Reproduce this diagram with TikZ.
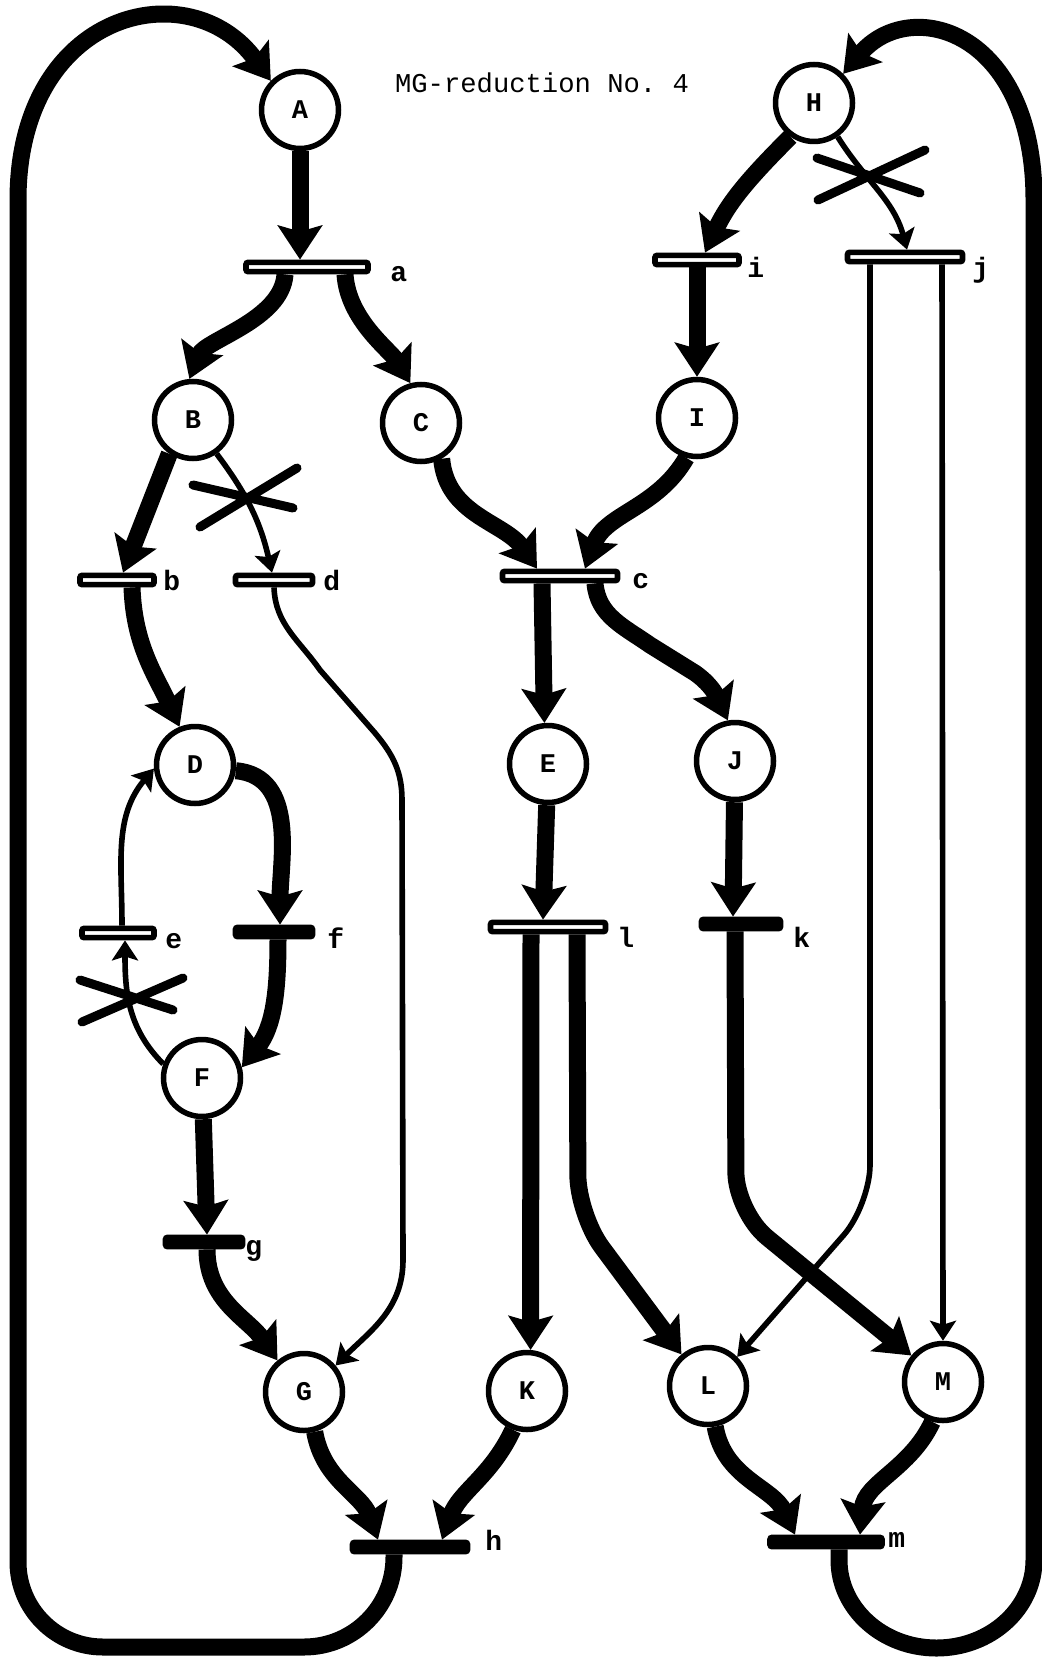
\documentclass[tikz,border=0pt]{standalone}
\usepackage{fontspec}
\setmonofont{Liberation Mono}
\usepackage{tikz}
\usetikzlibrary{positioning, arrows.meta, calc}
\newcommand{\mglet}[1]{\raisebox{-4pt}{#1}}

\begin{document}
\begin{tikzpicture}[
  x=0.5pt, y=0.5pt,
  place/.style={circle, draw, line width=2.75pt, minimum size=38.5pt, inner sep=0pt,
                fill=white, font=\fontsize{13.5}{13.5}\selectfont\ttfamily\bfseries},
  bar/.style={rectangle, rounded corners=1pt, draw, line width=2.8pt,
              minimum height=4.6pt, inner sep=0pt, fill=white},
  fbar/.style={bar, fill=black},
  lbl/.style={font=\fontsize{14}{14}\selectfont\ttfamily\bfseries, inner sep=0pt, anchor=base west},
  ttl/.style={font=\fontsize{13.6}{14}\selectfont\ttfamily, inner sep=0pt},
  heavy/.style={-{Stealth[length=17pt, width=22pt, inset=3pt]}, line width=8.5pt},
  light/.style={-{Stealth[length=10pt, width=13pt, inset=2pt]}, line width=2.8pt},
  xmark/.style={line width=4.5pt, line cap=round},
]
  \useasboundingbox (0,0) rectangle (1042,-1658);

  \node[ttl] (title) at (542,-83) {MG-reduction No. 4};

  % places
  \node[place] (A) at (300,-110)  {\mglet{A}};
  \node[place] (H) at (814,-103)  {\mglet{H}};
  \node[place] (B) at (193,-420)  {\mglet{B}};
  \node[place] (C) at (421,-423)  {\mglet{C}};
  \node[place] (I) at (697,-418)  {\mglet{I}};
  \node[place] (D) at (195,-765)  {\mglet{D}};
  \node[place] (E) at (548,-764)  {\mglet{E}};
  \node[place] (J) at (735,-761)  {\mglet{J}};
  \node[place] (F) at (202,-1078) {\mglet{F}};
  \node[place] (G) at (304,-1392) {\mglet{G}};
  \node[place] (K) at (527,-1391) {\mglet{K}};
  \node[place] (L) at (708,-1386) {\mglet{L}};
  \node[place] (M) at (943,-1382) {\mglet{M}};

  % transitions
  \node[bar, minimum width=61pt]   (a) at (307,-267)  {};
  \node[bar, minimum width=42pt]   (i) at (697,-260)  {};
  \node[bar, minimum width=57.5pt] (j) at (905,-257)  {};
  \node[bar, minimum width=37pt]   (b) at (117,-580)  {};
  \node[bar, minimum width=38.5pt] (d) at (274,-580)  {};
  \node[bar, minimum width=57.5pt] (c) at (560,-576)  {};
  \node[bar, minimum width=36pt]   (e) at (118,-933)  {};
  \node[fbar, minimum width=38.5pt] (f) at (274,-932) {};
  \node[bar, minimum width=57.5pt] (l) at (548,-927)  {};
  \node[fbar, minimum width=39.5pt] (k) at (741,-924) {};
  \node[fbar, minimum width=38.5pt] (g) at (204,-1242) {};
  \node[fbar, minimum width=57.5pt] (h) at (410,-1547) {};
  \node[fbar, minimum width=56pt]   (m) at (826,-1542) {};

  \node[lbl] (la) at (390,-282)  {a};
  \node[lbl] (li) at (747,-278)  {i};
  \node[lbl] (lj) at (972,-278)  {j};
  \node[lbl] (lb) at (163,-590)  {b};
  \node[lbl] (ld) at (323,-590)  {d};
  \node[lbl] (lc) at (632,-588)  {c};
  \node[lbl] (le) at (165,-948)  {e};
  \node[lbl] (lf) at (327,-948)  {f};
  \node[lbl] (ll) at (617,-947)  {l};
  \node[lbl] (lk) at (793,-947)  {k};
  \node[lbl] (lg) at (245,-1255) {g};
  \node[lbl] (lh) at (485,-1550) {h};
  \node[lbl] (lm) at (888,-1547) {m};

  % outer loops
  \draw[heavy] ($(h.south)+(-16,0)$) -- (394,-1557) arc[start angle=0, end angle=-90, radius=90]
    -- (103,-1647) arc[start angle=270, end angle=180, radius=85]
    -- (18,-200) .. controls (18,-10) and (190,30) .. (A.135);
  \draw[heavy] ($(m.south)+(13,0)$) -- (839,-1560)
    arc[start angle=180, end angle=360, x radius=97.5, y radius=88]
    -- (1034,-200) .. controls (1034,-30) and (910,5) .. (H.45);

  % left half
  \draw[heavy] (A) -- (A.south |- a.north);
  \draw[heavy] ($(a.south)+(-22,0)$) .. controls (282,-320) and (205,-340) .. (B.95);
  \draw[heavy] ($(a.south)+(38,0)$) .. controls (348,-320) and (390,-350) .. (C.105);
  \draw[heavy] (B.235) -- ($(b.north)+(6,0)$);
  \draw[light] (B.-55) to[bend left=12] ($(d.north)+(-2,0)$);
  \draw[xmark] (193,-485) -- (293,-508) (200,-527) -- (297,-468);
  \draw[heavy] ($(b.south)+(15,0)$) to[out=-88, in=115] (D.112);
  \draw[light] (d.south) to[out=-88, in=125] (320,-670) -- (375,-733)
    to[out=-50, in=90] (402,-800) -- (403,-1260) to[out=-90, in=45] (G.40);
  \draw[heavy] (D.-8) to[out=-5, in=90] ($(f.north)+(6,0)$);
  \draw[heavy] ($(f.south)+(4,0)$) to[out=-90, in=52] (F.15);
  \draw[light] (F.160) to[out=135, in=-90] ($(e.south)+(7,0)$);
  \draw[xmark] (80,-980) -- (173,-1010) (82,-1022) -- (183,-978);
  \draw[light] ($(e.north)+(4,0)$) to[out=90, in=230] (D.185);
  \draw[heavy] (F) -- ($(g.north)+(3,0)$);
  \draw[heavy] ($(g.south)+(3,0)$) to[out=-90, in=125] (G.130);
  \draw[heavy] (G.-75) to[out=-80, in=110] ($(h.north)+(-32,0)$);
  \draw[heavy] (K.-110) to[out=-115, in=70] ($(h.north)+(32,0)$);

  % middle
  \draw[heavy] (C.-60) to[out=-85, in=125] ($(c.north)+(-23,0)$);
  \draw[heavy] (I.-105) to[out=-120, in=70] ($(c.north)+(25,0)$);
  \draw[heavy] ($(c.south)+(-18,0)$) -- (E.95);
  \draw[heavy] ($(c.south)+(35,0)$) to[out=-85, in=145] (650,-645) -- (695,-673)
    to[out=-35, in=115] (J.100);
  \draw[heavy] (E) -- ($(l.north)+(-5,0)$);
  \draw[heavy] (J) -- ($(k.north)+(-8,0)$);
  \draw[heavy] ($(l.south)+(-17,0)$) -- (K.85);
  \draw[heavy, rounded corners=20pt] ($(l.south)+(29,0)$) -- (578,-1215) -- (L.130);
  \draw[heavy, rounded corners=20pt] ($(k.south)+(-6,0)$) -- (736,-1212) -- (M.140);

  % right half
  \draw[heavy] (H.235) to[out=-135, in=65] ($(i.north)+(8,0)$);
  \draw[light] (H.-55) to[out=-58, in=105] ($(j.north)+(2,0)$);
  \draw[xmark] (817,-158) -- (920,-193) (818,-200) -- (925,-150);
  \draw[heavy] (i) -- (I);
  \draw[light, rounded corners=20pt] ($(j.south)+(-35,0)$) -- (870,-1205) -- (L.45);
  \draw[light] ($(j.south)+(37,0)$) -- (M.north);
  \draw[heavy] (L.-80) to[out=-80, in=115] ($(m.north)+(-31,0)$);
  \draw[heavy] (M.-105) to[out=-115, in=85] ($(m.north)+(34,0)$);
\end{tikzpicture}
\end{document}
